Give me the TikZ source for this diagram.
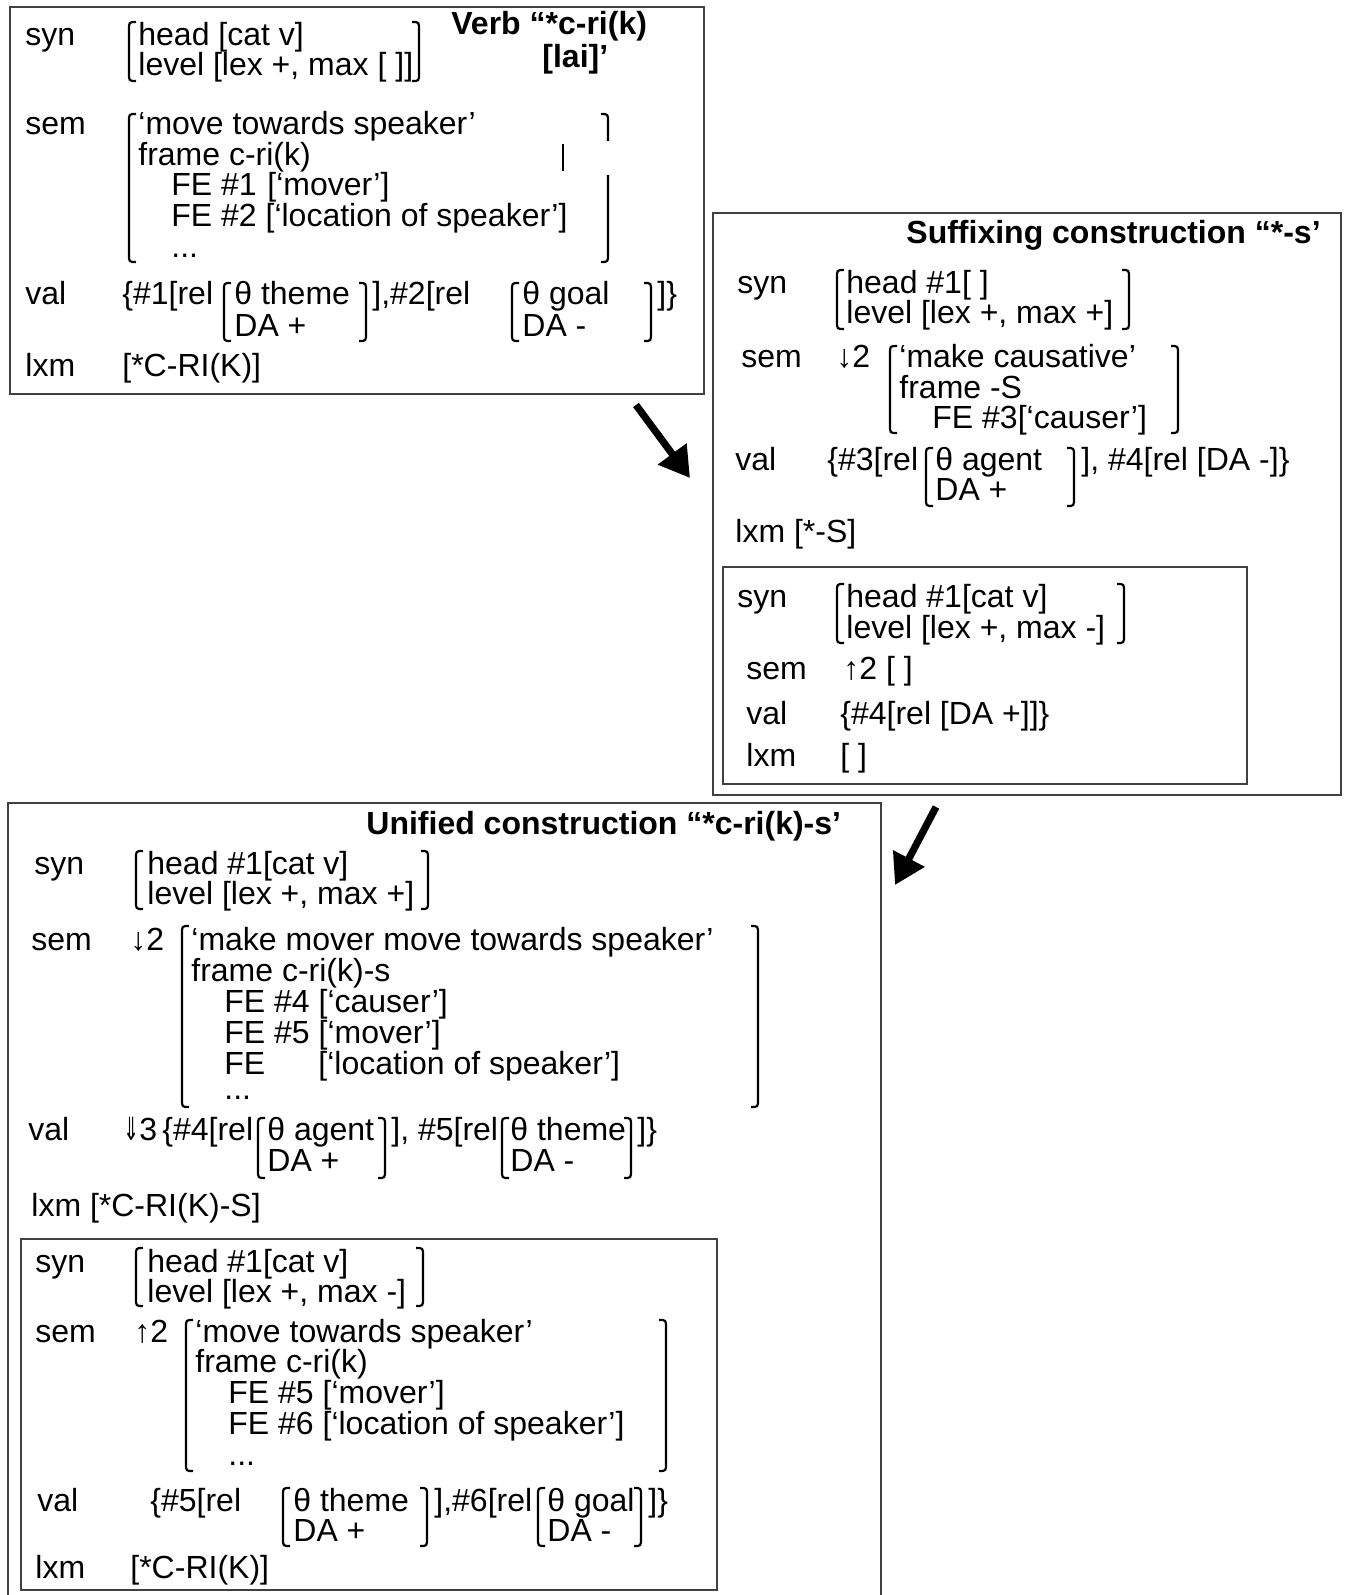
\documentclass[tikz,border=0pt]{standalone}
\usepackage{fontspec}
\setmainfont{Liberation Sans}
\newfontfamily\arwfont{DejaVu Sans}
\usetikzlibrary{arrows.meta}

\newcommand\lbrk[3]{\draw[br] ({#1+7},#2) .. controls (#1,#2) .. (#1,{#2+8}) -- (#1,{#3-8}) .. controls (#1,#3) .. ({#1+7},#3);}
\newcommand\rbrk[3]{\draw[br] ({#1-7},#2) .. controls (#1,#2) .. (#1,{#2+8}) -- (#1,{#3-8}) .. controls (#1,#3) .. ({#1-7},#3);}

\begin{document}
\begin{tikzpicture}[x=0.5pt,y=-0.5pt,
  t/.style={anchor=base west,inner sep=0pt,font=\fontsize{16}{16}\selectfont},
  ttl/.style={t,font=\fontsize{16}{16}\selectfont\bfseries},
  br/.style={line width=1.1pt},
  box/.style={draw=black!75,line width=.8pt},
  f/.style={-{Triangle[length=15pt,width=17pt]},line width=3.6pt}]
\useasboundingbox (0,0) rectangle (1347,1595);

\draw[box] (10,7) rectangle (704,394);
\node[ttl] (vttl) at (451,35) {Verb “*c-ri(k)};
\node[ttl] (vttlb) at (542,68) {[lai]’};
\node[t] (vsyn) at (25,46) {syn};
\lbrk{129}{22}{81}
\node[t] (vhead) at (138,46) {head [cat v]};
\node[t] (vlevel) at (138,76) {level [lex +, max [ ]]};
\rbrk{419}{22}{81}
\node[t] (vsem) at (25,134) {sem};
\lbrk{129}{114}{262}
\node[t] (vmean) at (138,134) {‘move towards speaker’};
\node[t] (vframe) at (138,165) {frame c-ri(k)};
\node[t] (vfe1) at (171,195) {FE \#1};
\node[t] (vfe1r) at (267,195) {[‘mover’]};
\node[t] (vfe2) at (171,226) {FE \#2 [‘location of speaker’]};
\node[t] (vdots) at (171,257) {...};
\draw[br] (601,114) .. controls (608,114) .. (608,122) -- (608,141);
\draw[br] (563,144) -- (563,171);
\draw[br] (608,175) -- (608,254) .. controls (608,262) .. (601,262);
\node[t] (vval) at (25,304) {val};
\node[t] (vvalA) at (122,304) {\{\#1[rel};
\lbrk{224}{283}{341}
\node[t] (vth) at (234,304) {θ theme};
\node[t] (vda) at (234,336) {DA +};
\rbrk{366}{283}{341}
\node[t] (vvalB) at (372,304) {],\#2[rel};
\lbrk{512}{283}{341}
\node[t] (vgoal) at (522,304) {θ goal};
\node[t] (vdb) at (522,336) {DA -};
\rbrk{651}{283}{341}
\node[t] (vvalC) at (657,304) {]\}};
\node[t] (vlxm) at (25,376) {lxm};
\node[t] (vlxmA) at (122,376) {[*C-RI(K)]};

\draw[box] (713,213) rectangle (1341,795);
\node[ttl] (sttl) at (906,243) {Suffixing construction “*-s’};
\node[t] (ssyn) at (737,293) {syn};
\lbrk{837}{270}{329}
\node[t] (shead) at (846,293) {head \#1[ ]};
\node[t] (slevel) at (846,323) {level [lex +, max +]};
\rbrk{1129}{270}{329}
\node[t] (ssem) at (741,367) {sem};
\node[t] (sarr) at (836,367) {↓2};
\lbrk{890}{346}{433}
\node[t] (smean) at (899,367) {‘make causative’};
\node[t] (sframe) at (899,398) {frame -S};
\node[t] (sfe) at (932,428) {FE \#3[‘causer’]};
\rbrk{1178}{346}{433}
\node[t] (sval) at (735,470) {val};
\node[t] (svalA) at (827,470) {\{\#3[rel};
\lbrk{926}{448}{506}
\node[t] (sth) at (935,470) {θ agent};
\node[t] (sda) at (935,500) {DA +};
\rbrk{1074}{448}{506}
\node[t] (svalB) at (1081,470) {], \#4[rel [DA -]\}};
\node[t] (slxm) at (735,542) {lxm [*-S]};

\draw[box] (723,567) rectangle (1247,784);
\node[t] (isyn) at (737,607) {syn};
\lbrk{837}{584}{643}
\node[t] (ihead) at (846,607) {head \#1[cat v]};
\node[t] (ilevel) at (846,638) {level [lex +, max -]};
\rbrk{1124}{584}{643}
\node[t] (isem) at (746,679) {sem};
\node[t] (isemA) at (843,679) {↑2 [ ]};
\node[t] (ival) at (746,724) {val};
\node[t] (ivalA) at (840,724) {\{\#4[rel [DA +]]\}};
\node[t] (ilxm) at (746,766) {lxm};
\node[t] (ilxmA) at (840,766) {[ ]};

\draw[box] (8,1600) -- (8,803) -- (881,803) -- (881,1600);
\node[ttl] (uttl) at (366,834) {Unified construction “*c-ri(k)-s’};
\node[t] (usyn) at (34,874) {syn};
\lbrk{136}{851}{909}
\node[t] (uhead) at (147,874) {head \#1[cat v]};
\node[t] (ulevel) at (147,904) {level [lex +, max +]};
\rbrk{428}{851}{909}
\node[t] (usem) at (31,950) {sem};
\node[t] (uarr) at (130,950) {↓2};
\lbrk{182}{926}{1107}
\node[t] (umean) at (191,950) {‘make mover move towards speaker’};
\node[t] (uframe) at (191,981) {frame c-ri(k)-s};
\node[t] (ufe4) at (224,1012) {FE \#4 [‘causer’]};
\node[t] (ufe5) at (224,1043) {FE \#5 [‘mover’]};
\node[t] (ufe) at (224,1074) {FE};
\node[t] (ufer) at (318,1074) {[‘location of speaker’]};
\node[t] (udots) at (224,1099) {...};
\rbrk{758}{926}{1107}
\node[t] (uval) at (28,1140) {val};
\node[t] (uarrb) at (123,1140) {\scalebox{0.6}[1]{\arwfont ⇓}3};
\node[t] (uvalA) at (162,1140) {\{\#4[rel};
\lbrk{258}{1118}{1178}
\node[t] (uth) at (267,1140) {θ agent};
\node[t] (uda) at (267,1171) {DA +};
\rbrk{385}{1118}{1178}
\node[t] (uvalB) at (391,1140) {], \#5[rel};
\lbrk{502}{1118}{1178}
\node[t] (uth2) at (510,1140) {θ theme};
\node[t] (udb) at (510,1171) {DA -};
\rbrk{631}{1118}{1178}
\node[t] (uvalC) at (637,1140) {]\}};
\node[t] (ulxm) at (31,1216) {lxm [*C-RI(K)-S]};

\draw[box] (21,1239) rectangle (717,1590);
\node[t] (jsyn) at (35,1272) {syn};
\lbrk{136}{1248}{1306}
\node[t] (jhead) at (147,1272) {head \#1[cat v]};
\node[t] (jlevel) at (147,1302) {level [lex +, max -]};
\rbrk{423}{1248}{1306}
\node[t] (jsem) at (35,1342) {sem};
\node[t] (jarr) at (134,1342) {↑2};
\lbrk{186}{1320}{1471}
\node[t] (jmean) at (195,1342) {‘move towards speaker’};
\node[t] (jframe) at (195,1372) {frame c-ri(k)};
\node[t] (jfe5) at (228,1403) {FE \#5 [‘mover’]};
\node[t] (jfe6) at (228,1434) {FE \#6 [‘location of speaker’]};
\node[t] (jdots) at (228,1465) {...};
\rbrk{666}{1320}{1471}
\node[t] (jval) at (37,1511) {val};
\node[t] (jvalA) at (150,1511) {\{\#5[rel};
\lbrk{283}{1488}{1546}
\node[t] (jth) at (293,1511) {θ theme};
\node[t] (jda) at (293,1541) {DA +};
\rbrk{427}{1488}{1546}
\node[t] (jvalB) at (434,1511) {],\#6[rel};
\lbrk{538}{1488}{1546}
\node[t] (jgoal) at (547,1511) {θ goal};
\node[t] (jdb) at (547,1541) {DA -};
\rbrk{641}{1488}{1546}
\node[t] (jvalC) at (648,1511) {]\}};
\node[t] (jlxm) at (35,1578) {lxm};
\node[t] (jlxmA) at (130,1578) {[*C-RI(K)]};

\coordinate (a1s) at (636,405);
\coordinate (a1e) at (690,478);
\draw[f] (a1s) -- (a1e);
\coordinate (a2s) at (936,807);
\coordinate (a2e) at (895,885);
\draw[f] (a2s) -- (a2e);
\end{tikzpicture}
\end{document}
